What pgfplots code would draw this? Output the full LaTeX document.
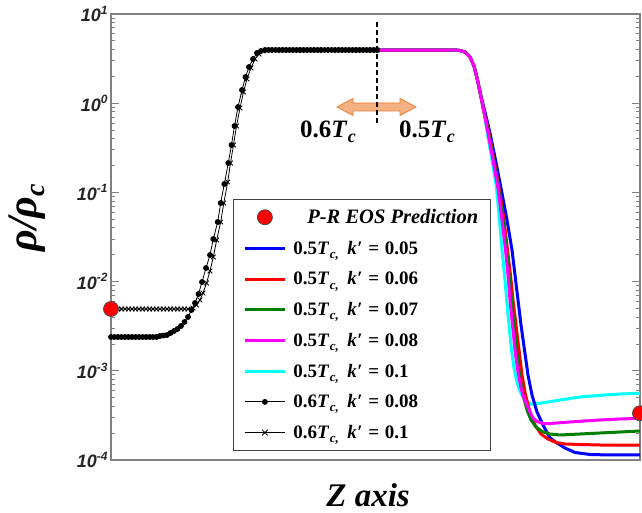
\documentclass[border=0pt]{standalone}
\usepackage{fontspec}
\setmainfont{Liberation Sans}
\newfontfamily\timesfont{Liberation Serif}
\usepackage{pgfplots}
\pgfplotsset{compat=1.18}
\definecolor{axgray}{RGB}{128,128,128}
\definecolor{arrfill}{RGB}{244,177,131}
\definecolor{arrdraw}{RGB}{237,125,49}
\definecolor{mygreen}{RGB}{0,128,0}
\definecolor{myblue}{RGB}{0,0,255}
\definecolor{myred}{RGB}{255,0,0}
\definecolor{mymagenta}{RGB}{255,0,255}
\definecolor{mycyan}{RGB}{0,255,255}
\newcommand\sps[1]{\raisebox{0.42em}{\fontsize{12}{12}\selectfont #1}}
\newcommand\tc[1]{{\timesfont\bfseries #1\textit{T}\kern0.5pt\raisebox{-0.22em}{\fontsize{0.72em}{1em}\selectfont\itshape c}}}
\newcommand\lt[3]{{\timesfont\bfseries #1\textit{T}\kern0.5pt\raisebox{-0.22em}{\fontsize{13}{13}\selectfont\itshape c,}\hspace{0.45em}\textit{k}\kern0.5pt′\hspace{0.3em}=\hspace{0.3em}#2}}
\begin{document}
\begin{tikzpicture}
\useasboundingbox (0pt,0pt) rectangle (642pt,513pt);
\begin{axis}[
  at={(111pt,53pt)}, anchor=south west,
  scale only axis, width=529pt, height=446pt,
  xmin=111, xmax=640, ymode=log, ymin=1e-4, ymax=10,
  xtick=\empty,
  ytick={1e-4,1e-3,1e-2,1e-1,1,10},
  yticklabels={10\sps{-4},10\sps{-3},10\sps{-2},10\sps{-1},10\sps{0},10\sps{1}},
  yticklabel pos=left,
  yticklabel style={font=\fontsize{18}{18}\selectfont\bfseries\itshape, text=black!85},
  axis line style={draw=axgray, line width=1.2pt},
  every tick/.style={draw=axgray, line width=0.8pt},
  major tick length=8pt, minor tick length=4pt,
  clip=false,
  xlabel={Z axis},
  xlabel style={font=\fontsize{33}{33}\selectfont\timesfont\bfseries\itshape, at={(axis description cs:0.486,-0.078)}, anchor=center},
  ylabel={ρ/ρ\raisebox{-0.2em}{\fontsize{28}{28}\selectfont c}},
  ylabel style={font=\fontsize{42}{42}\selectfont\timesfont\bfseries\itshape, at={(axis description cs:-0.159,0.543)}, anchor=center},
  legend style={draw=black!75, line width=0.8pt, fill=white, at={(0.2306,0.5852)}, anchor=north west,
    font=\fontsize{19}{19}\selectfont, row sep=12pt, inner xsep=10pt, inner ysep=8pt,
    /tikz/every odd column/.append style={column sep=5pt}},
  legend cell align=left,
  legend image code/.code={\draw[mark repeat=2,mark phase=2,#1] plot coordinates {(0pt,0pt) (20pt,0pt) (40pt,0pt)};},
]
% 0.5 Tc, k'=0.1 (cyan)
\addplot[mycyan, line width=3pt, line join=round, forget plot] coordinates {
(377,3.948) (400,3.948) (430,3.948) (455,3.948) (460,3.898) (465,3.750) (470,3.296) (474,2.613) (477,1.917) (480,1.335) (484,0.7967) (487.5,0.4515) (492,0.2308) (496.5,0.1120) (499.5,0.04904) (502,0.02261) (504.5,0.01186) (506.7,6.218e-3) (509,3.262e-3) (511.5,1.711e-3) (514,1.075e-3) (517,7.489e-4) (520,5.935e-4) (523.5,4.956e-4) (527,4.469e-4) (531,4.244e-4) (535,4.244e-4) (545,4.412e-4) (560,4.706e-4) (580,5.085e-4) (600,5.313e-4) (620,5.494e-4) (640,5.595e-4)};
% 0.5 Tc, k'=0.05 (blue)
\addplot[myblue, line width=3pt, line join=round, forget plot] coordinates {
(377,3.948) (400,3.948) (430,3.948) (455,3.948) (460,3.898) (465,3.750) (470,3.296) (474,2.613) (477,1.917) (480,1.335) (485,0.7967) (490,0.4633) (495.5,0.2308) (501,0.1120) (507,0.04904) (512,0.02261) (515,0.01186) (518,6.218e-3) (521,3.262e-3) (524.5,1.711e-3) (528,8.972e-4) (532,5.354e-4) (537,3.453e-4) (543,2.468e-4) (550,1.764e-4) (557,1.551e-4) (565,1.363e-4) (575,1.214e-4) (590,1.153e-4) (610,1.138e-4) (640,1.138e-4)};
% 0.5 Tc, k'=0.06 (red)
\addplot[myred, line width=3pt, line join=round, forget plot] coordinates {
(377,3.948) (400,3.948) (430,3.948) (455,3.948) (460,3.898) (465,3.750) (470,3.296) (474,2.613) (477,1.917) (480,1.335) (484,0.7967) (489,0.4633) (494,0.2308) (499,0.1120) (504,0.04904) (507.5,0.02261) (510.5,0.01186) (513,6.218e-3) (516,3.262e-3) (519,1.711e-3) (522,8.972e-4) (525.5,5.354e-4) (530,3.453e-4) (535,2.468e-4) (541,1.957e-4) (548,1.719e-4) (556,1.571e-4) (565,1.511e-4) (580,1.492e-4) (600,1.473e-4) (640,1.473e-4)};
% 0.5 Tc, k'=0.07 (green)
\addplot[mygreen, line width=3pt, line join=round, forget plot] coordinates {
(377,3.948) (400,3.948) (430,3.948) (455,3.948) (460,3.898) (465,3.750) (470,3.296) (474,2.613) (477,1.917) (480,1.335) (484,0.7967) (488.5,0.4633) (493.5,0.2308) (498.5,0.1120) (503,0.04904) (506.5,0.02261) (509,0.01186) (511.5,6.218e-3) (514,3.262e-3) (516.5,1.711e-3) (519.5,8.972e-4) (523,5.354e-4) (527,3.636e-4) (531,2.809e-4) (536,2.344e-4) (542,2.087e-4) (550,1.957e-4) (560,1.907e-4) (580,1.957e-4) (600,2.008e-4) (620,2.060e-4) (640,2.114e-4)};
% 0.5 Tc, k'=0.08 (magenta)
\addplot[mymagenta, line width=3pt, line join=round, forget plot] coordinates {
(377,3.948) (400,3.948) (430,3.948) (455,3.948) (460,3.898) (465,3.750) (470,3.296) (474,2.613) (477,1.917) (480,1.335) (484,0.7967) (488,0.4633) (493,0.2308) (498,0.1120) (502,0.04904) (505.5,0.02261) (508,0.01186) (510,6.218e-3) (512.5,3.262e-3) (515,1.711e-3) (518,9.695e-4) (521,6.413e-4) (524,4.956e-4) (527,4.136e-4) (530,3.453e-4) (533,2.958e-4) (537,2.702e-4) (543,2.565e-4) (550,2.565e-4) (560,2.619e-4) (580,2.716e-4) (600,2.809e-4) (620,2.882e-4) (640,2.935e-4)};
% 0.6 Tc, k'=0.08 (dots)
\addplot[black, line width=0.8pt, mark=*, mark size=2.5pt, forget plot] coordinates {
(111,2.393e-3) (114.5,2.393e-3) (118,2.393e-3) (121.5,2.393e-3) (125,2.393e-3) (128.5,2.393e-3) (132,2.393e-3) (135.5,2.393e-3) (139,2.393e-3) (142.5,2.393e-3) (146,2.393e-3) (149.5,2.393e-3) (153,2.393e-3) (156.5,2.393e-3)
(160,2.455e-3) (163.5,2.487e-3) (167,2.519e-3) (170.5,2.653e-3) (174,2.794e-3) (177.5,2.942e-3) (181,3.178e-3) (184.5,3.525e-3) (188,4.010e-3) (191.5,4.805e-3) (195,5.756e-3) (198.5,7.261e-3) (202,9.897e-3) (206,1.421e-2) (210,1.987e-2) (213.3,3.003e-2) (217.7,4.658e-2) (220.7,7.607e-2) (224.3,0.1242) (228.3,0.2136) (231.5,0.3399) (234.5,0.5551) (238,0.9066) (242,1.406) (245.5,1.967) (249,2.546) (253,3.130) (257,3.655) (261,3.847) (265,3.948)
(268.5,3.948) (272,3.948) (275.5,3.948) (279,3.948) (282.5,3.948) (286,3.948) (289.5,3.948) (293,3.948) (296.5,3.948) (300,3.948) (303.5,3.948) (307,3.948) (310.5,3.948) (314,3.948) (317.5,3.948) (321,3.948) (324.5,3.948) (328,3.948) (331.5,3.948) (335,3.948) (338.5,3.948) (342,3.948) (345.5,3.948) (349,3.948) (352.5,3.948) (356,3.948) (359.5,3.948) (363,3.948) (366.5,3.948) (370,3.948) (373.5,3.948) (377,3.948)};
% 0.6 Tc, k'=0.1 (crosses)
\addplot[black, line width=0.8pt, mark=x, mark size=3.2pt, forget plot] coordinates {
(111,4.931e-3) (114.5,4.931e-3) (118,4.931e-3) (121.5,4.931e-3) (125,4.931e-3) (128.5,4.931e-3) (132,4.931e-3) (135.5,4.931e-3) (139,4.931e-3) (142.5,4.931e-3) (146,4.931e-3) (149.5,4.931e-3) (153,4.931e-3) (156.5,4.931e-3) (160,4.931e-3) (163.5,4.931e-3) (167,4.931e-3) (170.5,4.931e-3) (174,4.931e-3) (177.5,4.931e-3) (181,4.931e-3) (184.5,4.931e-3) (188,4.931e-3)
(193,5.058e-3) (196.5,5.467e-3) (200,6.218e-3) (203,7.451e-3) (206.5,9.645e-3) (210,1.315e-2) (213.3,1.887e-2) (216.7,2.927e-2) (220.7,4.658e-2) (223.8,7.607e-2) (227.7,0.1308) (230.5,0.2136) (233.5,0.3399) (236.5,0.5551) (240,0.8834) (243.5,1.335) (247,1.867) (251,2.481) (255,3.130) (259,3.562) (263,3.847) (267,3.948)
(270.5,3.948) (274,3.948) (277.5,3.948) (281,3.948) (284.5,3.948) (288,3.948) (291.5,3.948) (295,3.948) (298.5,3.948) (302,3.948) (305.5,3.948) (309,3.948) (312.5,3.948) (316,3.948) (319.5,3.948) (323,3.948) (326.5,3.948) (330,3.948) (333.5,3.948) (337,3.948) (340.5,3.948) (344,3.948) (347.5,3.948) (351,3.948) (354.5,3.948) (358,3.948) (361.5,3.948) (365,3.948) (368.5,3.948) (372,3.948) (375.5,3.948) (377,3.948)};
% P-R EOS prediction
\addplot[only marks, mark=*, mark size=7.5pt, mark options={fill=myred, draw=black!70, line width=0.8pt}, forget plot] coordinates {(111,4.931e-3) (640,3.339e-4)};
% legend
\addlegendimage{only marks, mark=*, mark size=7.5pt, mark options={fill=myred, draw=black!70, line width=0.8pt}}
\addlegendentry{\hspace{14pt}{\fontsize{20.5}{20.5}\selectfont\timesfont\bfseries\itshape P-R EOS Prediction}}
\addlegendimage{myblue, line width=3pt}
\addlegendentry{\lt{0.5}{0.05}{}}
\addlegendimage{myred, line width=3pt}
\addlegendentry{\lt{0.5}{0.06}{}}
\addlegendimage{mygreen, line width=3pt}
\addlegendentry{\lt{0.5}{0.07}{}}
\addlegendimage{mymagenta, line width=3pt}
\addlegendentry{\lt{0.5}{0.08}{}}
\addlegendimage{mycyan, line width=3pt}
\addlegendentry{\lt{0.5}{0.1}{}}
\addlegendimage{black, line width=0.8pt, mark=*, mark size=2.5pt}
\addlegendentry{\lt{0.6}{0.08}{}}
\addlegendimage{black, line width=0.8pt, mark=x, mark size=4pt}
\addlegendentry{\lt{0.6}{0.1}{}}
\coordinate (A) at (axis cs:376.5,0.9066);
\coordinate (D1) at (axis cs:377,8.13);
\coordinate (D2) at (axis cs:377,0.570);
\node at (axis cs:328,0.4755) {\fontsize{25}{25}\selectfont\tc{0.6}};
\node at (axis cs:427,0.4755) {\fontsize{25}{25}\selectfont\tc{0.5}};
\end{axis}
\filldraw[fill=arrfill, draw=arrdraw, line width=0.8pt, shift={(A)}]
  (-39.5pt,0pt) -- (-23.5pt,8.5pt) -- (-23.5pt,4pt) -- (23.5pt,4pt) -- (23.5pt,8.5pt) -- (39.5pt,0pt)
  -- (23.5pt,-8.5pt) -- (23.5pt,-4pt) -- (-23.5pt,-4pt) -- (-23.5pt,-8.5pt) -- cycle;
\draw[black, line width=1.6pt, dash pattern=on 5pt off 3pt] (D1) -- (D2);
\end{tikzpicture}
\end{document}
